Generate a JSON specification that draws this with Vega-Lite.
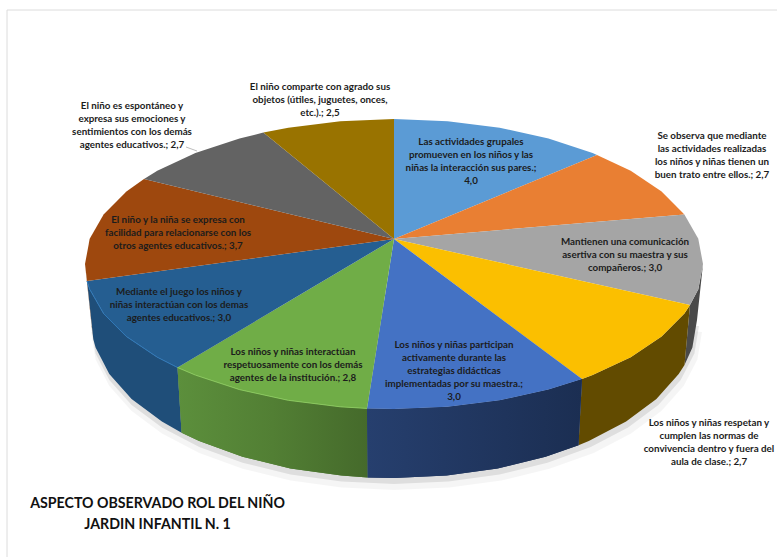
{
"$schema":"https://vega.github.io/schema/vega-lite/v6.json",
"width":777,"height":557,"padding":0,"autosize":{"type":"none"},
"background":"white",
"config":{"view":{"stroke":null}},
"projection":{"type":"identity","scale":1,"translate":[0,0]},
"datasets":{
"top":[
{"type":"Feature","properties":{"aspect":"Actividades grupales","value":4.0},"geometry":{"type":"Polygon","coordinates":[[[394,239],[394,119],[447.7,121.2],[499.7,127.7],[548.5,138.4],[592.6,152.9],[597,155],[394,239]]]}},
{"type":"Feature","properties":{"aspect":"Buen trato","value":2.7},"geometry":{"type":"Polygon","coordinates":[[[394,239],[597,155],[630.7,170.8],[661.6,191.5],[684.4,214.4],[394,239]]]}},
{"type":"Feature","properties":{"aspect":"Comunicación asertiva","value":3.0},"geometry":{"type":"Polygon","coordinates":[[[394,239],[684.4,214.4],[698.3,238.8],[703,264],[698.3,289.2],[690,305],[394,239]]]}},
{"type":"Feature","properties":{"aspect":"Normas de convivencia","value":2.7},"geometry":{"type":"Polygon","coordinates":[[[394,239],[690,305],[684.4,313.6],[661.6,336.5],[630.7,357.2],[592.6,375.1],[582,379],[394,239]]]}},
{"type":"Feature","properties":{"aspect":"Participación activa","value":3.0},"geometry":{"type":"Polygon","coordinates":[[[394,239],[582,379],[548.5,389.6],[499.7,400.3],[447.7,406.8],[394,409],[367,408.4],[394,239]]]}},
{"type":"Feature","properties":{"aspect":"Interacción respetuosa","value":2.8},"geometry":{"type":"Polygon","coordinates":[[[394,239],[367,408.4],[340.3,406.8],[288.3,400.3],[239.5,389.6],[195.4,375.1],[177.5,367.5],[394,239]]]}},
{"type":"Feature","properties":{"aspect":"Juego","value":3.0},"geometry":{"type":"Polygon","coordinates":[[[394,239],[177.5,367.5],[157.3,357.2],[126.4,336.5],[103.6,313.6],[89.7,289.2],[87,281],[394,239]]]}},
{"type":"Feature","properties":{"aspect":"Facilidad para relacionarse","value":3.7},"geometry":{"type":"Polygon","coordinates":[[[394,239],[87,281],[85,264],[89.7,238.8],[103.6,214.4],[126.4,191.5],[144,179],[394,239]]]}},
{"type":"Feature","properties":{"aspect":"Espontáneo","value":2.7},"geometry":{"type":"Polygon","coordinates":[[[394,239],[144,179],[157.3,170.8],[195.4,152.9],[239.5,138.4],[263.4,132.6],[394,239]]]}},
{"type":"Feature","properties":{"aspect":"Comparte","value":2.5},"geometry":{"type":"Polygon","coordinates":[[[394,239],[263.4,132.6],[288.3,127.7],[340.3,121.2],[394,119],[394,239]]]}}
],
"walls":[
{"type":"Feature","properties":{"aspect":"Comunicación asertiva"},"geometry":{"type":"Polygon","coordinates":[[[703,264],[698.3,289.2],[690,305],[684.5,364.9],[692.4,347.4],[697,320],[703,264]]]}},
{"type":"Feature","properties":{"aspect":"Normas de convivencia"},"geometry":{"type":"Polygon","coordinates":[[[690,305],[684.4,313.6],[661.6,336.5],[630.7,357.2],[592.6,375.1],[582,379],[578.5,445.3],[588.8,441],[626.1,421.6],[656.4,399],[678.7,374],[684.5,364.9],[690,305]]]}},
{"type":"Feature","properties":{"aspect":"Participación activa"},"geometry":{"type":"Polygon","coordinates":[[[582,379],[548.5,389.6],[499.7,400.3],[447.7,406.8],[394,409],[367,408.4],[367.6,477.4],[394,478],[446.6,475.6],[497.6,468.5],[545.5,456.8],[578.5,445.3],[582,379]]]}},
{"type":"Feature","properties":{"aspect":"Interacción respetuosa"},"geometry":{"type":"Polygon","coordinates":[[[367,408.4],[340.3,406.8],[288.3,400.3],[239.5,389.6],[195.4,375.1],[177.5,367.5],[181.6,432.7],[199.2,441],[242.5,456.8],[290.4,468.5],[341.4,475.6],[367.6,477.4],[367,408.4]]]}},
{"type":"Feature","properties":{"aspect":"Juego"},"geometry":{"type":"Polygon","coordinates":[[[177.5,367.5],[157.3,357.2],[126.4,336.5],[103.6,313.6],[89.7,289.2],[87,281],[93.3,339.3],[95.6,347.4],[109.3,374],[131.6,399],[161.9,421.6],[181.6,432.7],[177.5,367.5]]]}},
{"type":"Feature","properties":{"aspect":"Facilidad para relacionarse"},"geometry":{"type":"Polygon","coordinates":[[[85,264],[87,281],[93.3,339.3],[91,320],[85,264]]]}}
],
"shadow":[
{"type":"Feature","properties":{"part":"near"},"geometry":{"type":"Polygon","coordinates":[[[699,326],[694.4,353.4],[680.7,380],[658.4,405],[628.1,427.6],[590.8,447],[547.5,462.8],[499.6,474.5],[448.6,481.6],[394,484],[341.4,481.6],[290.4,474.5],[242.5,462.8],[199.2,447],[161.9,427.6],[131.6,405],[109.3,380],[95.6,353.4],[91,326],[394,300],[699,326]]]}},
{"type":"Feature","properties":{"part":"far"},"geometry":{"type":"Polygon","coordinates":[[[702,332],[697.4,359.4],[683.7,386],[661.4,411],[631.1,433.6],[593.8,453],[549.5,468.8],[501.6,480.5],[449.6,487.6],[394,490],[341.4,487.6],[290.4,480.5],[242.5,468.8],[199.2,453],[161.9,433.6],[131.6,411],[109.3,386],[95.6,359.4],[91,332],[394,300],[702,332]]]}}
],
"lines":[
{"type":"Feature","properties":{"part":"marco"},"geometry":{"type":"LineString","coordinates":[[7,557],[7,10],[777,10]]}},
{"type":"Feature","properties":{"part":"guía"},"geometry":{"type":"LineString","coordinates":[[186,147],[197,151]]}},
{"type":"Feature","properties":{"part":"borde Juego"},"geometry":{"type":"LineString","coordinates":[[177.5,367.5],[157.3,357.2],[126.4,336.5],[103.6,313.6],[89.7,289.2],[87,281]]}},
{"type":"Feature","properties":{"part":"borde Interacción"},"geometry":{"type":"LineString","coordinates":[[367,408.4],[340.3,406.8],[288.3,400.3],[239.5,389.6],[195.4,375.1],[177.5,367.5]]}}
],
"labels":[
{"aspect":"Actividades grupales","lon":471,"lat":142,"label":"Las actividades grupales\npromueven en los niños y las\nniñas la  interacción sus pares.;\n4,0"},
{"aspect":"Buen trato","lon":712,"lat":136,"label":"Se observa que mediante\nlas actividades realizadas\nlos niños y niñas tienen un\nbuen trato entre ellos.; 2,7"},
{"aspect":"Comunicación asertiva","lon":625,"lat":242,"label":"Mantienen una comunicación\nasertiva con su maestra y  sus\ncompañeros.; 3,0"},
{"aspect":"Normas de convivencia","lon":709,"lat":423,"label":"Los niños y niñas respetan y\ncumplen las normas de\nconvivencia dentro y fuera del\naula de clase.; 2,7"},
{"aspect":"Participación activa","lon":454,"lat":345,"label":"Los niños y niñas participan\nactivamente durante las\nestrategias didácticas\nimplementadas por su maestra.;\n3,0"},
{"aspect":"Interacción respetuosa","lon":293,"lat":352,"label":"Los niños y niñas interactúan\nrespetuosamente con los demás\nagentes de la institución.; 2,8"},
{"aspect":"Juego","lon":179,"lat":292,"label":"Mediante el juego los niños y\nniñas interactúan  con los demas\nagentes educativos.; 3,0"},
{"aspect":"Facilidad para relacionarse","lon":178,"lat":220,"label":"El niño y la niña se expresa con\nfacilidad para relacionarse con los\notros agentes educativos.; 3,7"},
{"aspect":"Espontáneo","lon":132,"lat":106,"label":"El niño es espontáneo y\nexpresa sus emociones y\nsentimientos con los demás\nagentes educativos.; 2,7"},
{"aspect":"Comparte","lon":320,"lat":87,"label":"El niño comparte con agrado sus\nobjetos (útiles, juguetes, onces,\netc.).; 2,5"}
],
"titulo":[{"lon":157.5,"lat":504,"label":"ASPECTO OBSERVADO ROL DEL NIÑO\nJARDIN INFANTIL N. 1"}]
},
"layer":[
{"data":{"name":"shadow"},"mark":{"type":"geoshape","stroke":null},
 "encoding":{"fill":{"value":"#000000"},"fillOpacity":{"field":"properties.part","type":"nominal","scale":{"domain":["near","far"],"range":[0.09,0.04]},"legend":null}}},
{"data":{"name":"walls"},"mark":{"type":"geoshape"},
 "encoding":{"fill":{"field":"properties.aspect","type":"nominal","legend":null,"scale":{"domain":["Comunicación asertiva","Normas de convivencia","Participación activa","Interacción respetuosa","Juego","Facilidad para relacionarse"],"range":["#4a4a4a","#624b00","#1f3258","#4f7a33","#1f4e79","#7a3a0c"]}}}},
{"data":{"name":"walls"},"transform":[{"filter":"datum.properties.aspect === 'Interacción respetuosa'"}],
 "mark":{"type":"geoshape","fill":{"gradient":"linear","x1":0,"y1":0,"x2":1,"y2":0,"stops":[{"offset":0,"color":"#5c8f3c"},{"offset":0.5,"color":"#527f34"},{"offset":1,"color":"#456a2b"}]}}},
{"data":{"name":"walls"},"transform":[{"filter":"datum.properties.aspect === 'Participación activa'"}],
 "mark":{"type":"geoshape","fill":{"gradient":"linear","x1":0,"y1":0,"x2":1,"y2":0,"stops":[{"offset":0,"color":"#263f6e"},{"offset":1,"color":"#1b2e52"}]}}},
{"data":{"name":"top"},"mark":{"type":"geoshape"},
 "encoding":{"fill":{"field":"properties.aspect","type":"nominal","legend":null,"scale":{"domain":["Actividades grupales","Buen trato","Comunicación asertiva","Normas de convivencia","Participación activa","Interacción respetuosa","Juego","Facilidad para relacionarse","Espontáneo","Comparte"],"range":["#5b9bd5","#e97f33","#a5a5a5","#fbbf00","#4472c4","#70ad47","#255e91","#9e480e","#636363","#997300"]}}}},
{"data":{"name":"lines"},"mark":{"type":"geoshape","filled":false,"strokeWidth":1},
 "encoding":{"stroke":{"field":"properties.part","type":"nominal","legend":null,"scale":{"domain":["marco","guía","borde Juego","borde Interacción"],"range":["#dcdcdc","#bdbdbd","#2f78b8","#8ac85e"]}}}},
{"data":{"name":"labels"},"mark":{"type":"text","font":"Lato","fontWeight":"bold","fontSize":9.8,"lineHeight":13,"lineBreak":"\n","align":"center","baseline":"middle","color":"#1c1c1c"},
 "encoding":{"longitude":{"field":"lon","type":"quantitative"},"latitude":{"field":"lat","type":"quantitative"},"text":{"field":"label","type":"nominal"}}},
{"data":{"name":"titulo"},"mark":{"type":"text","font":"Lato","fontWeight":"bold","fontSize":14.2,"lineHeight":21,"lineBreak":"\n","align":"center","baseline":"middle","color":"#111111"},
 "encoding":{"longitude":{"field":"lon","type":"quantitative"},"latitude":{"field":"lat","type":"quantitative"},"text":{"field":"label","type":"nominal"}}}
],
"resolve":{"scale":{"fill":"independent","stroke":"independent"}}
}
